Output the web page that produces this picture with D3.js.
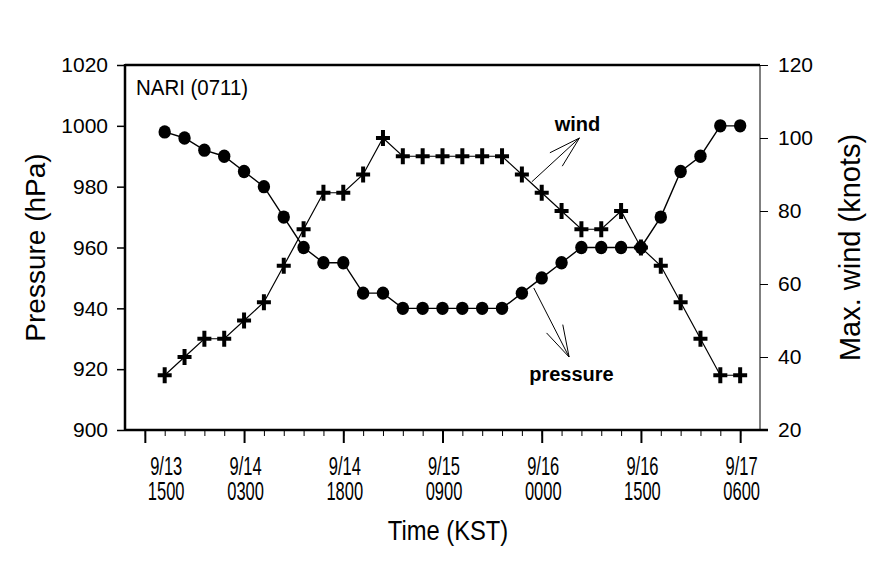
<!DOCTYPE html>
<html>
<head>
<meta charset="utf-8">
<script src="https://cdn.jsdelivr.net/npm/d3@7"></script>
<style>
  html, body { margin: 0; padding: 0; background: #fff; }
  svg { display: block; }
  text { font-family: "Liberation Sans", Arial, sans-serif; fill: #000; }
</style>
</head>
<body>
<script>
// ---------------- data ----------------
const obsIndex = d3.range(0, 30); // 3-hourly observations
const pressure = [998,996,992,990,985,980,970,960,955,955,945,945,940,940,940,940,940,940,945,950,955,960,960,960,960,970,985,990,1000,1000];
const wind     = [35,40,45,45,50,55,65,75,85,85,90,100,95,95,95,95,95,95,90,85,80,75,75,80,70,65,55,45,35,35];
const majorTickIdx = [-1, 4, 9, 14, 19, 24, 29];
const labelIdx     = [0, 4, 9, 14, 19, 24, 29];
const labelDate    = ["9/13","9/14","9/14","9/15","9/16","9/16","9/17"];
const labelTime    = ["1500","0300","1800","0900","0000","1500","0600"];
const pressureTicks = [900, 920, 940, 960, 980, 1000, 1020];
const windTicks     = [20, 40, 60, 80, 100, 120];

// annotations (data coordinates)
const windArrow = { from: [18.5, 88], to: [20.9, 100], label: [20.8, 102], text: "wind" };
const presArrow = { from: [18.6, 946.7], to: [20.38, 924], label: [20.5, 916], text: "pressure" };

// ---------------- layout ----------------
const W = 889, H = 564;
const L = 125, R = 760, T = 65, B = 430;

const svg = d3.select("body").append("svg").attr("width", W).attr("height", H);

const x  = d3.scaleLinear().domain([-2, 30]).range([L, R]);
const yP = d3.scaleLinear().domain([900, 1020]).range([B, T]);
const yW = d3.scaleLinear().domain([20, 120]).range([B, T]);

function stext(g, str, px, py, size, sx, anchor, weight) {
  return g.append("text")
    .attr("transform", `translate(${px},${py}) scale(${sx},1)`)
    .attr("text-anchor", anchor || "middle")
    .style("font-size", size + "px")
    .style("font-weight", weight || "normal")
    .text(str);
}

// ---- left axis ----
const gL = svg.append("g").attr("transform", `translate(${L},0)`)
  .call(d3.axisLeft(yP).tickValues(pressureTicks).tickSize(8).tickPadding(9).tickFormat(d3.format("d")));
gL.select(".domain").remove();
gL.selectAll(".tick line").attr("stroke", "#000").attr("stroke-width", 1.5);
gL.selectAll(".tick text").style("font-size", "21px").attr("font-family", null);

// ---- right axis ----
const gR = svg.append("g").attr("transform", `translate(${R},0)`)
  .call(d3.axisRight(yW).tickValues(windTicks).tickSize(8).tickPadding(10).tickFormat(d3.format("d")));
gR.select(".domain").remove();
gR.selectAll(".tick line").attr("stroke", "#000").attr("stroke-width", 1);
gR.selectAll(".tick text").style("font-size", "21px").attr("font-family", null);

// ---- bottom axis: minor + major ticks ----
const gBm = svg.append("g").attr("transform", `translate(0,${B})`)
  .call(d3.axisBottom(x).tickValues(d3.range(-1, 30)).tickSize(6).tickFormat(""));
gBm.select(".domain").remove();
gBm.selectAll(".tick line").attr("stroke", "#000").attr("stroke-width", 1);

const gBM = svg.append("g").attr("transform", `translate(0,${B})`)
  .call(d3.axisBottom(x).tickValues(majorTickIdx).tickSize(13).tickFormat(""));
gBM.select(".domain").remove();
gBM.selectAll(".tick line").attr("stroke", "#000").attr("stroke-width", 2);

// x tick labels (two lines)
const gLab = svg.append("g");
labelIdx.forEach((v, i) => {
  stext(gLab, labelDate[i], x(v) + 1.5, 475, 25, 0.66);
  stext(gLab, labelTime[i], x(v) + 1.5, 500, 25, 0.66);
});

// ---- frame ----
const frame = svg.append("g").attr("stroke", "#000").attr("fill", "none");
frame.append("line").attr("x1", R).attr("x2", R).attr("y1", T).attr("y2", B).attr("stroke-width", 1);
frame.append("line").attr("x1", L).attr("x2", R).attr("y1", T).attr("y2", T).attr("stroke-width", 2.5);
frame.append("line").attr("x1", L).attr("x2", R + 8).attr("y1", B).attr("y2", B).attr("stroke-width", 2.5);
frame.append("line").attr("x1", L).attr("x2", L).attr("y1", T - 1).attr("y2", B + 1).attr("stroke-width", 2.5);

// ---- titles ----
svg.append("text")
  .attr("transform", `translate(45,${(T + B) / 2}) rotate(-90)`)
  .attr("text-anchor", "middle").style("font-size", "28px").text("Pressure (hPa)");
svg.append("text")
  .attr("transform", `translate(860,${(T + B) / 2}) rotate(-90)`)
  .attr("text-anchor", "middle").style("font-size", "29px").text("Max. wind (knots)");
stext(svg, "Time (KST)", 448, 540, 27, 0.88);
stext(svg, "NARI (0711)", 136, 95, 22, 0.93, "start");

// ---- series ----
const pData = obsIndex.map((d, i) => [d, pressure[i]]);
const wData = obsIndex.map((d, i) => [d, wind[i]]);

svg.append("path").datum(pData)
  .attr("fill", "none").attr("stroke", "#000").attr("stroke-width", 1.4)
  .attr("d", d3.line().x(d => x(d[0])).y(d => yP(d[1])));
svg.append("path").datum(wData)
  .attr("fill", "none").attr("stroke", "#000").attr("stroke-width", 1.2)
  .attr("d", d3.line().x(d => x(d[0])).y(d => yW(d[1])));

svg.append("g").selectAll("ellipse").data(pData).join("ellipse")
  .attr("cx", d => x(d[0])).attr("cy", d => yP(d[1]))
  .attr("rx", 6.2).attr("ry", 6.7).attr("fill", "#000");

const plus = "M-7,-2H-2V-8H2V-2H7V2H2V8H-2V2H-7Z";
svg.append("g").selectAll("path").data(wData).join("path")
  .attr("transform", d => `translate(${x(d[0])},${yW(d[1])})`)
  .attr("d", plus).attr("fill", "#000");

// ---- annotation arrows ----
function arrow(a, ys) {
  const x1 = x(a.from[0]), y1 = ys(a.from[1]);
  const x2 = x(a.to[0]),   y2 = ys(a.to[1]);
  const ang = Math.atan2(y1 - y2, x1 - x2);
  const g = svg.append("g").attr("stroke", "#000").attr("stroke-width", 1).attr("fill", "none");
  g.append("line").attr("x1", x1).attr("y1", y1).attr("x2", x2).attr("y2", y2);
  [-0.28, 0.28].forEach(da => {
    g.append("line").attr("x1", x2).attr("y1", y2)
      .attr("x2", x2 + 33 * Math.cos(ang + da)).attr("y2", y2 + 33 * Math.sin(ang + da));
  });
  stext(svg, a.text, x(a.label[0]), ys(a.label[1]), 20, 1, "middle", "bold");
}
arrow(windArrow, yW);
arrow(presArrow, yP);
</script>
</body>
</html>
